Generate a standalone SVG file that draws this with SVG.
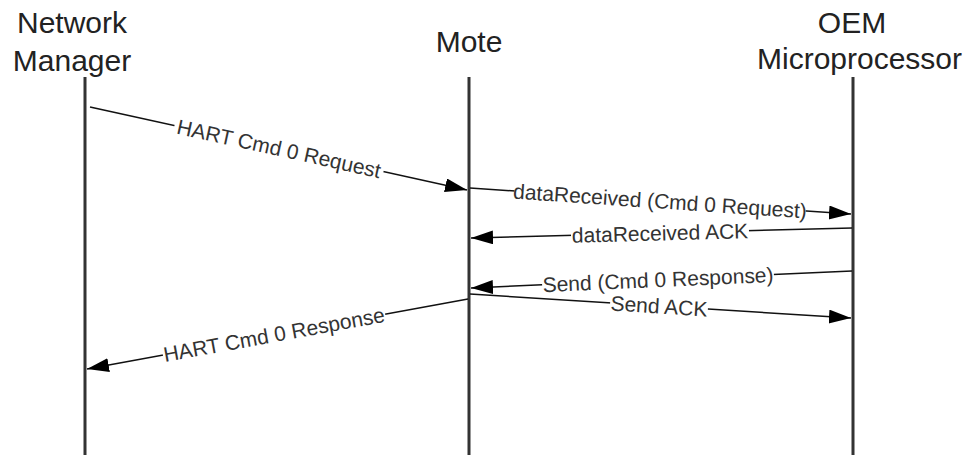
<svg xmlns="http://www.w3.org/2000/svg" width="963" height="455" viewBox="0 0 963 455">
  <style>
    .title { font-family: "Liberation Sans", Arial, sans-serif; font-size: 30px; fill: #222; }
    .life { stroke: #333; stroke-width: 3; fill: none; }
    .msg { stroke: #111; stroke-width: 1.5; fill: none; marker-end: url(#arrow); }
    .lbl { font-family: "Liberation Sans", Arial, sans-serif; font-size: 21px; fill: #333; text-anchor: middle; dominant-baseline: central; }
    .bg { fill: #fff; }
  </style>
  <defs>
    <marker id="arrow" markerUnits="userSpaceOnUse" markerWidth="24" markerHeight="16" refX="22" refY="7" orient="auto">
      <path d="M0,0 L22,7 L0,14 Z" fill="#000"/>
    </marker>
  </defs>
  <rect width="963" height="455" fill="#fff"/>

  <g id="network-manager">
    <text class="title" x="72" y="33" text-anchor="middle">Network</text>
    <text class="title" x="72" y="71" text-anchor="middle">Manager</text>
    <line class="life" x1="85" y1="77" x2="85" y2="455"/>
  </g>
  <g id="mote">
    <text class="title" x="469" y="52" text-anchor="middle">Mote</text>
    <line class="life" x1="469" y1="77" x2="469" y2="455"/>
  </g>
  <g id="oem-microprocessor">
    <text class="title" x="852" y="33" text-anchor="middle">OEM</text>
    <text class="title" x="757" y="69">Microprocessor</text>
    <line class="life" x1="853" y1="77" x2="853" y2="455"/>
  </g>

  <g id="connectors">
    <line class="msg" x1="90" y1="107" x2="467" y2="190"/>
    <line class="msg" x1="470" y1="188" x2="851" y2="214"/>
    <line class="msg" x1="852" y1="228" x2="471" y2="238"/>
    <line class="msg" x1="852" y1="271" x2="471" y2="288"/>
    <line class="msg" x1="470" y1="294" x2="851" y2="318"/>
    <line class="msg" x1="468" y1="299" x2="87" y2="369"/>

    <g transform="translate(279,148.5) rotate(12.38)">
      <rect class="bg" x="-107" y="-8" width="214" height="16"/>
      <text class="lbl">HART Cmd 0 Request</text>
    </g>
    <g transform="translate(660,201) rotate(3.87)">
      <rect class="bg" x="-146" y="-8" width="292" height="16"/>
      <text class="lbl">dataReceived (Cmd 0 Request)</text>
    </g>
    <g transform="translate(660,233) rotate(-1.5)">
      <rect class="bg" x="-89" y="-8" width="178" height="16"/>
      <text class="lbl">dataReceived ACK</text>
    </g>
    <g transform="translate(658,279.6) rotate(-2.55)">
      <rect class="bg" x="-116" y="-8" width="232" height="16"/>
      <text class="lbl">Send (Cmd 0 Response)</text>
    </g>
    <g transform="translate(659,306) rotate(3.58)">
      <rect class="bg" x="-49" y="-8" width="98" height="16"/>
      <text class="lbl">Send ACK</text>
    </g>
    <g transform="translate(274,334.5) rotate(-10.38)">
      <rect class="bg" x="-113" y="-8" width="226" height="16"/>
      <text class="lbl">HART Cmd 0 Response</text>
    </g>
  </g>
</svg>
